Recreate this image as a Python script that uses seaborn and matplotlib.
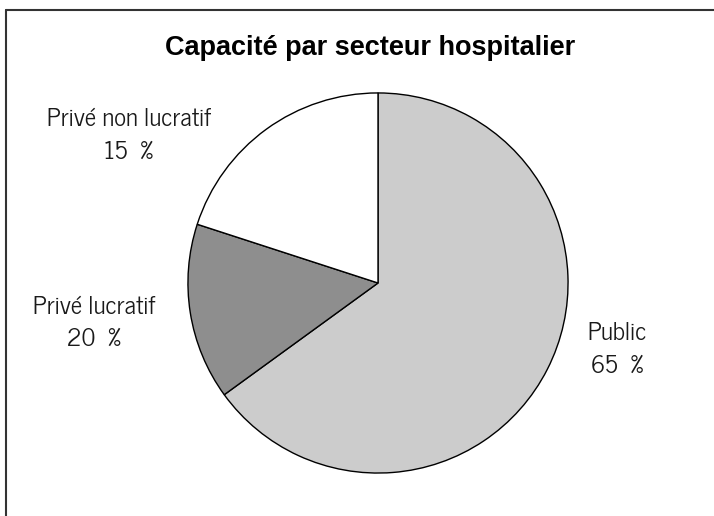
import matplotlib
matplotlib.use("Agg")
import matplotlib.pyplot as plt
import seaborn as sns

sns.set_theme(style="white")
plt.rcParams['font.family'] = ["News Cycle", "Liberation Sans", "DejaVu Sans"]

title = "Capacité par secteur hospitalier"
sectors = ["Public", "Privé lucratif", "Privé non lucratif"]
shares = [65, 15, 20]
label_pct = ["65 %", "20 %", "15 %"]
colors = ["#cccccc", "#8e8e8e", "#ffffff"]

W, H = 714, 516
fig = plt.figure(figsize=(W / 100, H / 100), dpi=100)
fig.patch.set_facecolor("white")

cx, cy, r = 378, 283, 191
ax = fig.add_axes([(cx - r) / W, (H - cy - r) / H, 2 * r / W, 2 * r / H])
ax.pie(shares, colors=colors, startangle=90, counterclock=False,
       wedgeprops=dict(edgecolor="black", linewidth=1.0))
ax.set_xlim(-1.005, 1.005)
ax.set_ylim(-1.005, 1.005)
ax.set_axis_off()

label_xy = [(617, 350), (94, 323), (129, 136)]
for name, pct, (x, y) in zip(sectors, label_pct, label_xy):
    fig.text(x / W, 1 - y / H, f"{name}\n{pct.replace(' ', chr(0x2002))}",
             ha="center", va="center", fontsize=18, color="#1a1a1a",
             linespacing=1.5)

fig.text(370 / W, 1 - 48 / H, title, ha="center", va="center",
         fontsize=19.5, fontweight="bold", color="black",
         family=["Liberation Sans", "DejaVu Sans"])

# frame lines (top and left)
fig.add_artist(plt.Line2D([6 / W, 1], [1 - 10 / H, 1 - 10 / H], color="#333333", lw=1.5))
fig.add_artist(plt.Line2D([6 / W, 6 / W], [0, 1 - 10 / H], color="#333333", lw=1.5))

fig.savefig("out.png", dpi=100, facecolor="white")
